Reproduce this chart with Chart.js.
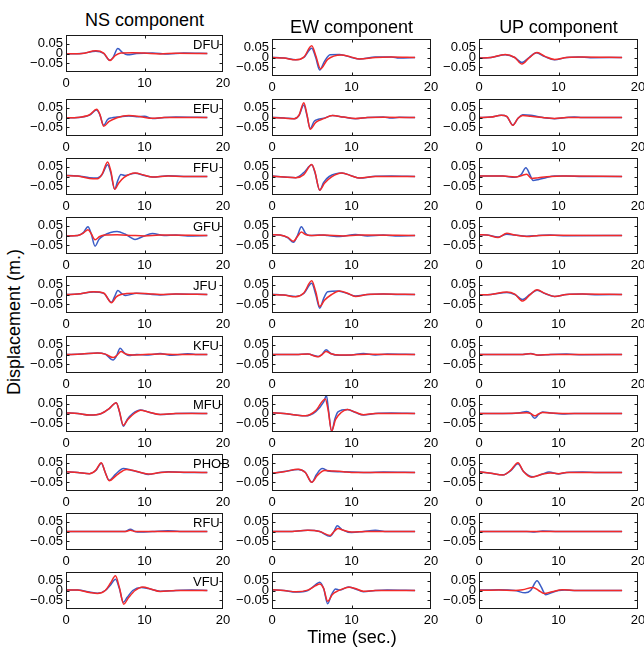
<!DOCTYPE html>
<html>
<head>
<meta charset="utf-8">
<script src="https://cdn.jsdelivr.net/npm/chart.js@4.4.0/dist/chart.umd.min.js"></script>
<style>
    html, body { margin: 0; padding: 0; background: #fff; overflow: hidden; }
    #page { position: relative; width: 644px; height: 651px; font-family: "Liberation Sans", Arial, sans-serif; color: #000; }
    #page canvas { position: absolute; }
    .label { position: absolute; white-space: nowrap; transform: translate(-50%, -50%); }
    .col-title { font-size: 18px; }
    .axis-title { font-size: 18px; }
</style>
</head>
<body>
<div id="page"></div>
<script>
// Waveform fits, three components per station
const stations = ['DFU', 'EFU', 'FFU', 'GFU', 'JFU', 'KFU', 'MFU', 'PHOB', 'RFU', 'VFU'];
const components = ['NS component', 'EW component', 'UP component'];
const timeTicks = [0, 10, 20];
const dispTicks = [-0.05, 0, 0.05];

// [time (s), displacement (m)] knots; each array holds NS, EW, UP
const obsDFU = [
    [[0,-0.002],[2,0],[3.8,0.012],[4.8,0],[5.6,-0.035],[6.0,-0.02],[6.6,0.026],[7.2,0.005],[7.8,-0.007],[9,0],[11,0.003],[13,-0.003],[15,0.002],[18,0]],
    [[0,0],[1.5,-0.002],[3,-0.012],[4,0],[5,0.048],[5.5,0],[6.0,-0.064],[6.6,-0.02],[7.3,0.014],[8.5,0.016],[10,0],[11,-0.008],[13,0.002],[15,0.003],[16,-0.002],[18,0]],
    [[0,-0.003],[1.5,0],[3.3,0.014],[4.5,0],[5.4,-0.026],[6.3,0],[7.2,0.024],[8.2,0.006],[9.5,-0.012],[11,0],[12.5,0.003],[14,-0.001],[18,0]]
];
const synDFU = [
    [[0,-0.002],[2,0],[3.8,0.014],[4.8,0.002],[5.6,-0.036],[6.3,-0.01],[7,0.002],[8.5,0.004],[10,0.002],[12,-0.002],[14,0.001],[18,0]],
    [[0,0],[1.5,-0.003],[3,-0.012],[4,0.002],[5,0.06],[5.5,0.01],[6.1,-0.058],[7,-0.01],[8.7,0.013],[10,0.002],[11,-0.008],[13,0],[15,0.002],[18,0]],
    [[0,-0.003],[1.5,0],[3.3,0.016],[4.5,0],[5.4,-0.034],[6.3,-0.002],[7.3,0.026],[8.3,0.006],[9.5,-0.01],[11,0],[13,0.002],[18,0]]
];

const obsEFU = [
    [[0,-0.002],[1.5,0],[3,0.012],[3.9,0.038],[4.3,0.015],[4.8,-0.04],[5.3,-0.01],[5.8,-0.002],[6.5,0.002],[8,0.008],[9,0.004],[10,0.006],[11,-0.005],[12.5,0],[14,0.002],[18,0]],
    [[0,0],[1.5,-0.002],[2.8,-0.006],[3.4,0.01],[4.0,0.064],[4.4,0.01],[4.8,-0.056],[5.3,-0.02],[5.6,-0.012],[6.5,-0.004],[7.6,0.01],[9,0.002],[10.5,-0.006],[12,0],[14,0.002],[15,-0.003],[16,0.001],[18,0]],
    [[0,0],[1.5,0.002],[2.8,0.011],[3.5,0.005],[4.25,-0.038],[4.9,-0.005],[5.5,0.014],[6.5,0.012],[7.5,0.004],[9.5,-0.006],[11,0],[12,0.003],[13,0],[18,0]]
];
const synEFU = [
    [[0,-0.002],[1.5,0],[3,0.014],[3.9,0.042],[4.3,0.018],[4.8,-0.045],[5.5,-0.02],[6.5,-0.001],[8,0.01],[9.5,0.004],[11,-0.004],[12.5,0],[18,0]],
    [[0,0],[1.5,-0.003],[2.8,-0.007],[3.4,0.012],[4.0,0.076],[4.4,0.015],[4.8,-0.06],[5.5,-0.025],[6.5,-0.006],[7.6,0.01],[9,0.002],[10.5,-0.005],[12,0],[14,0.001],[18,0]],
    [[0,0],[1.5,0.002],[2.8,0.012],[3.5,0.006],[4.25,-0.04],[4.9,-0.004],[5.5,0.01],[6.5,0.006],[8,0],[9.5,-0.005],[11,0],[18,0]]
];

const obsFFU = [
    [[0,0.005],[1.5,0.003],[3,-0.006],[4,-0.008],[4.6,0.01],[5.3,0.06],[5.7,0.02],[6.2,-0.065],[6.6,-0.02],[7.0,0.01],[7.5,0.005],[8.8,0.017],[10,0.005],[11,-0.003],[13,0.004],[15,0],[18,0]],
    [[0,0.002],[1.5,-0.002],[3,-0.006],[4,0.02],[5.0,0.06],[5.4,0.02],[6.0,-0.07],[6.5,-0.03],[7.2,0],[8.8,0.018],[10,0.004],[11,-0.008],[13,0.001],[15,0.002],[18,0]],
    [[0,0.002],[3,0.002],[4.5,-0.004],[5.3,0.01],[5.9,0.045],[6.4,0.01],[6.8,-0.02],[7.5,-0.015],[8.5,-0.005],[9.5,0.002],[11,0.002],[13,0],[18,0]]
];
const synFFU = [
    [[0,0.005],[1.5,0.002],[3,-0.01],[4,-0.012],[4.6,0.012],[5.3,0.075],[5.7,0.03],[6.2,-0.066],[6.7,-0.035],[7.4,-0.005],[8.8,0.018],[10,0.006],[11,-0.003],[13,0.003],[15,0],[18,0]],
    [[0,0.002],[1.5,-0.003],[3,-0.007],[4,0.01],[5.0,0.062],[5.4,0.025],[6.0,-0.07],[6.6,-0.035],[7.5,-0.002],[8.8,0.018],[10,0.003],[11,-0.008],[13,0],[18,0]],
    [[0,0.002],[3,0.002],[4.5,-0.003],[5.3,0.004],[6.0,0.012],[6.6,-0.01],[7.5,-0.006],[9,0],[10.5,0.002],[18,0]]
];

const obsGFU = [
    [[0,-0.003],[1.5,0],[2.2,0.015],[2.8,0.045],[3.2,0.01],[3.7,-0.055],[4.2,-0.02],[4.8,0],[6.5,0.02],[7.5,0.008],[8.8,-0.02],[9.8,-0.005],[11,0.01],[12.5,0],[14,0.002],[15.5,-0.002],[18,0]],
    [[0,0.004],[1,0.002],[2,-0.012],[2.7,-0.035],[3.2,0],[3.7,0.045],[4.2,0.012],[4.7,0],[6,0.003],[7,0],[8.5,-0.005],[10.5,0.005],[12,-0.002],[14,0.002],[15.5,-0.002],[18,0]],
    [[0,0.004],[1,0.003],[2.4,-0.008],[3.5,0.006],[4.5,0.002],[6,-0.004],[7.5,0],[9,0.002],[11,-0.001],[18,0]]
];
const synGFU = [
    [[0,-0.003],[1.5,0],[2.2,0.012],[2.8,0.03],[3.2,0.01],[3.7,-0.022],[4.3,-0.005],[5,0.002],[6.5,0.004],[8.5,0],[10,-0.002],[12,0.002],[18,0]],
    [[0,0.004],[1,0.002],[2,-0.01],[2.7,-0.03],[3.2,-0.005],[3.7,0.018],[4.2,0.005],[5,0],[6.5,0.003],[9,-0.002],[11,0.002],[18,0]],
    [[0,0.004],[1,0.003],[2.4,-0.01],[3.5,0.012],[4.5,0.002],[6,-0.005],[7.5,0],[9,0.001],[18,0]]
];

const obsJFU = [
    [[0,0],[1.5,0.002],[3.5,0.013],[4.8,0.006],[5.8,-0.04],[6.2,-0.01],[6.6,0.02],[7.1,0.005],[7.6,-0.005],[9,0.006],[10.5,0.002],[12,-0.002],[14,0.002],[18,0]],
    [[0,0],[1.5,-0.002],[3,-0.01],[4,0.005],[5,0.058],[5.5,0],[6.0,-0.07],[6.5,-0.02],[7.0,0.014],[8.3,0.018],[9.5,0.005],[10.5,-0.008],[12,0],[14,0.003],[16,0],[18,0]],
    [[0,-0.002],[1.5,0],[3.5,0.01],[4.5,0],[5.5,-0.026],[6.4,0],[7.3,0.022],[8.3,0.005],[9.5,-0.01],[11,0],[13,0.002],[15,-0.001],[18,0]]
];
const synJFU = [
    [[0,0],[1.5,0.002],[3.5,0.014],[4.8,0.008],[5.8,-0.042],[6.4,-0.012],[7,0],[8.8,0.007],[10.5,0.004],[12,0],[14,0.002],[18,0]],
    [[0,0],[1.5,-0.003],[3,-0.012],[4,0.008],[5,0.07],[5.5,0.015],[6.0,-0.062],[6.6,-0.03],[7.5,0],[8.5,0.018],[9.5,0.006],[10.5,-0.01],[12,0],[14,0.002],[18,0]],
    [[0,-0.002],[1.5,0],[3.5,0.013],[4.5,0.002],[5.5,-0.034],[6.4,-0.002],[7.3,0.024],[8.3,0.006],[9.5,-0.01],[11,0],[13,0.002],[18,0]]
];

const obsKFU = [
    [[0,0],[2,0.002],[4,0.008],[5,0.002],[6.0,-0.028],[6.4,-0.01],[6.9,0.032],[7.4,0.01],[8,-0.005],[9,0],[10.5,-0.002],[12,0.005],[13.5,-0.004],[15.5,0.004],[16.5,0],[18,0]],
    [[0,0],[3,0],[4.5,0.002],[5.8,-0.01],[6.3,0],[6.8,0.025],[7.4,0.005],[8.5,-0.004],[10,-0.002],[11.5,0.005],[13,-0.003],[14.5,0.002],[18,0]],
    [[0,0],[4,0],[5.5,0],[6.5,0.005],[7.5,-0.004],[9,0],[11,0.002],[13,-0.001],[18,0]]
];
const synKFU = [
    [[0,0],[2,0.002],[4,0.008],[5,0.002],[6.0,-0.016],[6.5,-0.004],[7.0,0.015],[7.6,0.003],[8.5,-0.002],[10,0],[12,0.002],[14,0],[18,0]],
    [[0,0],[3,0],[4.5,0.002],[5.8,-0.012],[6.3,0],[6.8,0.015],[7.4,0.004],[8.5,-0.003],[10,-0.002],[12,0.001],[18,0]],
    [[0,0],[4,0],[5.5,0],[6.5,0.004],[7.5,-0.003],[9,0],[18,0]]
];

const obsMFU = [
    [[0,0.003],[1.5,0],[3,-0.008],[4.5,0],[5.5,0.025],[6.4,0.055],[6.8,0.01],[7.3,-0.065],[7.8,-0.03],[8.5,0],[9.5,0.018],[10.5,0.008],[12,-0.005],[14,0],[16,0.001],[18,0]],
    [[0,0.004],[1.5,0],[3,-0.008],[4.2,-0.012],[5.5,0.01],[6.5,0.06],[6.85,0.092],[7.1,0.02],[7.5,-0.093],[7.9,-0.03],[8.3,0.008],[9.5,0.02],[10.5,0.005],[11.5,-0.008],[13,0],[15,0.002],[18,0]],
    [[0,0],[3,0],[5,0.003],[6,0.01],[6.5,0],[7.0,-0.025],[7.5,-0.005],[8.0,0.008],[9,0.003],[10.5,-0.002],[12,0],[18,0]]
];
const synMFU = [
    [[0,0.003],[1.5,0],[3,-0.008],[4.5,0],[5.5,0.025],[6.4,0.055],[6.8,0.012],[7.3,-0.06],[7.9,-0.03],[8.7,0],[9.5,0.017],[10.5,0.008],[12,-0.005],[14,0],[18,0]],
    [[0,0.004],[1.5,0],[3,-0.008],[4.2,-0.012],[5.5,0.015],[6.7,0.075],[7.05,0.02],[7.5,-0.09],[8.0,-0.03],[8.7,0.005],[9.5,0.02],[10.5,0.006],[11.5,-0.006],[13,0],[18,0]],
    [[0,0],[3,0],[5,0.002],[6,0.004],[6.5,0],[7.0,-0.012],[7.5,-0.002],[8.0,0.005],[9,0.002],[10.5,0],[18,0]]
];

const obsPHOB = [
    [[0,0.004],[1.5,0],[3,-0.006],[3.8,0.01],[4.5,0.048],[5.0,0],[5.5,-0.04],[6.3,-0.01],[7.3,0.02],[8.3,0.012],[9.5,0],[10.5,-0.01],[12,0],[13,0.004],[15,0],[18,0]],
    [[0,-0.004],[1.5,0.005],[3.3,0.016],[4.2,0],[5.0,-0.05],[5.6,-0.01],[6.3,0.02],[7.2,0.006],[8.5,0.004],[10,0.003],[12,0],[14,0.002],[18,0]],
    [[0,0.004],[1.5,-0.004],[3,-0.012],[4,0.01],[4.9,0.045],[5.6,0.005],[6.8,-0.022],[8,-0.008],[8.8,0.003],[10,-0.008],[11,0],[13,0.002],[15,0],[18,0]]
];
const synPHOB = [
    [[0,0.004],[1.5,0],[3,-0.006],[3.8,0.012],[4.5,0.05],[5.0,0],[5.5,-0.042],[6.5,-0.012],[7.7,0.016],[8.6,0.01],[9.5,0],[10.5,-0.008],[12,0],[13,0.003],[18,0]],
    [[0,-0.004],[1.5,0.004],[3.3,0.017],[4.2,0],[5.0,-0.05],[5.7,-0.015],[6.6,0.01],[7.5,0.008],[9,0.004],[10,0],[12,0],[18,0]],
    [[0,0.004],[1.5,-0.004],[3,-0.013],[4,0.012],[4.9,0.05],[5.6,0.005],[6.6,-0.024],[8,-0.008],[9,-0.002],[10,-0.006],[11,0],[18,0]]
];

const obsRFU = [
    [[0,0],[5,0],[7.5,0],[8.2,0.012],[8.8,0],[9.5,-0.003],[11,0],[13,0.004],[14.5,0],[18,0]],
    [[0,0],[2,0],[4.5,0.006],[6,0],[7.3,-0.025],[7.8,0],[8.2,0.03],[8.8,0.01],[10,-0.005],[11.5,0],[13,0.006],[14.5,0],[18,0]],
    [[0,0],[6,0],[7,-0.002],[8,0.002],[10,0],[18,0]]
];
const synRFU = [
    [[0,0],[5,0],[7.5,0],[8.2,0.006],[8.8,0],[10,0],[18,0]],
    [[0,0],[2,0],[4.5,0.006],[6,0],[7.3,-0.02],[7.8,0],[8.3,0.016],[9,0.006],[10,-0.003],[12,0],[18,0]],
    [[0,0],[18,0]]
];

const obsVFU = [
    [[0,0.003],[1.5,0.002],[3,-0.008],[4,-0.014],[5,0],[5.7,0.03],[6.3,0.058],[6.8,0.01],[7.3,-0.06],[7.8,-0.035],[8.5,0],[9.6,0.016],[10.5,0.01],[12,-0.004],[14,0],[16,0.002],[18,0]],
    [[0,0.004],[1.5,0],[3,-0.008],[4.5,0],[5.5,0.03],[6.0,0.043],[6.5,0.01],[7.0,-0.068],[7.5,-0.02],[8.0,0.008],[8.5,0.002],[9.6,0.018],[10.5,0.008],[11.5,-0.006],[13,0],[14.5,0.002],[18,0]],
    [[0,0.002],[2.5,0.004],[4.5,0],[5.8,-0.012],[6.5,0],[7.3,0.05],[7.8,0.02],[8.4,-0.022],[9.2,-0.01],[10,0],[10.8,0.003],[12,0],[18,0]]
];
const synVFU = [
    [[0,0.003],[1.5,0.002],[3,-0.01],[4,-0.016],[5,0],[5.7,0.04],[6.3,0.076],[6.8,0.015],[7.35,-0.07],[8,-0.035],[8.8,0],[9.8,0.018],[10.8,0.008],[12,-0.005],[14,0],[18,0]],
    [[0,0.004],[1.5,0],[3,-0.007],[4.5,0.002],[5.5,0.025],[6.0,0.034],[6.5,0.01],[7.0,-0.055],[7.6,-0.02],[8.2,-0.004],[9.7,0.017],[10.5,0.01],[11.5,-0.004],[13,0],[18,0]],
    [[0,0.001],[2.5,0.003],[4.5,0],[5.5,0.004],[6.8,0.016],[7.5,0],[8.2,-0.015],[9.2,-0.006],[10.5,0.004],[12,0],[18,0]]
];

const observed = { DFU: obsDFU, EFU: obsEFU, FFU: obsFFU, GFU: obsGFU, JFU: obsJFU,
    KFU: obsKFU, MFU: obsMFU, PHOB: obsPHOB, RFU: obsRFU, VFU: obsVFU };
const synthetic = { DFU: synDFU, EFU: synEFU, FFU: synFFU, GFU: synGFU, JFU: synJFU,
    KFU: synKFU, MFU: synMFU, PHOB: synPHOB, RFU: synRFU, VFU: synVFU };

// --- layout ---
const colLeft = [66, 272, 479];
const colWidth = [157, 159, 159];
const boxH = 37;
const marginL = 40, marginT = 4, marginR = 12, marginB = 24;

function boxTop(row, col) {
    if (row === 0) return col === 0 ? 35 : 39;
    return Math.round(99 + (row - 1) * 59.125);
}

Chart.defaults.font.family = '"Liberation Sans", Arial, sans-serif';
Chart.defaults.font.size = 13;
Chart.defaults.color = '#000';

// frame with inward ticks, plus the station name in the NS column
const framePlugin = {
    id: 'frame',
    afterDraw(chart, args, opts) {
        const { ctx, chartArea: a, scales } = chart;
        const L = Math.round(a.left) + 0.5, T = Math.round(a.top) + 0.5;
        const R = Math.round(a.right) - 0.5, B = Math.round(a.bottom) - 0.5;
        ctx.save();
        ctx.strokeStyle = '#1a1a1a';
        ctx.lineWidth = 1;
        ctx.strokeRect(L, T, R - L, B - T);
        ctx.beginPath();
        timeTicks.slice(1, -1).forEach(v => {
            const x = Math.round(scales.x.getPixelForValue(v)) + 0.5;
            ctx.moveTo(x, B); ctx.lineTo(x, B - 3);
            ctx.moveTo(x, T); ctx.lineTo(x, T + 3);
        });
        dispTicks.forEach(v => {
            const y = Math.round(scales.y.getPixelForValue(v)) + 0.5;
            ctx.moveTo(L, y); ctx.lineTo(L + 3, y);
            ctx.moveTo(R, y); ctx.lineTo(R - 3, y);
        });
        ctx.stroke();
        if (opts.name) {
            ctx.fillStyle = '#000';
            ctx.font = '13px "Liberation Sans", Arial, sans-serif';
            ctx.textBaseline = 'middle';
            ctx.fillText(opts.name, a.left + 127, a.top + 10);
        }
        ctx.restore();
    }
};

const page = document.getElementById('page');

function addLabel(text, cls, x, y, rotate) {
    const el = document.createElement('div');
    el.className = 'label ' + cls;
    el.textContent = text;
    el.style.left = x + 'px';
    el.style.top = y + 'px';
    if (rotate) el.style.transform = 'translate(-50%, -50%) rotate(-90deg)';
    page.appendChild(el);
}

function makePanel(row, col) {
    const station = stations[row];
    const w = colWidth[col];
    const canvas = document.createElement('canvas');
    canvas.width = marginL + w + marginR;
    canvas.height = marginT + boxH + marginB;
    canvas.style.left = (colLeft[col] - marginL) + 'px';
    canvas.style.top = (boxTop(row, col) - marginT) + 'px';
    page.appendChild(canvas);

    new Chart(canvas, {
        type: 'line',
        data: {
            datasets: [
                {
                    label: 'synthetic',
                    data: synthetic[station][col],
                    borderColor: '#f22a2a',
                    borderWidth: 1.5,
                    order: 0
                },
                {
                    label: 'observed',
                    data: observed[station][col],
                    borderColor: '#3a5cc6',
                    borderWidth: 1.5,
                    order: 1
                }
            ]
        },
        options: {
            responsive: false,
            animation: false,
            devicePixelRatio: 1,
            layout: { padding: { top: marginT, right: marginR, left: 0, bottom: 0 } },
            elements: {
                point: { radius: 0 },
                line: { cubicInterpolationMode: 'monotone', fill: false }
            },
            plugins: {
                legend: { display: false },
                tooltip: { enabled: false },
                frame: { name: col === 0 ? station : '' }
            },
            scales: {
                x: {
                    type: 'linear',
                    min: 0,
                    max: 20,
                    grid: { display: false, drawTicks: false },
                    border: { display: false },
                    afterBuildTicks: s => { s.ticks = timeTicks.map(v => ({ value: v })); },
                    afterFit: s => { s.height = marginB; s.paddingLeft = 0; s.paddingRight = 0; },
                    ticks: { autoSkip: false, maxRotation: 0, padding: 4, callback: v => String(v) }
                },
                y: {
                    min: -0.095,
                    max: 0.095,
                    grid: { display: false, drawTicks: false },
                    border: { display: false },
                    afterBuildTicks: s => { s.ticks = dispTicks.map(v => ({ value: v })); },
                    afterFit: s => { s.width = marginL; s.paddingTop = 0; s.paddingBottom = 0; },
                    ticks: {
                        autoSkip: false,
                        padding: 3,
                        callback: v => v === 0 ? '0' : (v < 0 ? '\u2212' : '') + Math.abs(v).toFixed(2)
                    }
                }
            }
        },
        plugins: [framePlugin]
    });
}

stations.forEach((s, row) => {
    components.forEach((c, col) => makePanel(row, col));
});

// column headings and axis titles
addLabel(components[0], 'col-title', 144.5, 20);
addLabel(components[1], 'col-title', 351.5, 27);
addLabel(components[2], 'col-title', 558.5, 27);
addLabel('Displacement (m.)', 'axis-title', 14, 322, true);
addLabel('Time (sec.)', 'axis-title', 352, 637);
</script>
</body>
</html>
